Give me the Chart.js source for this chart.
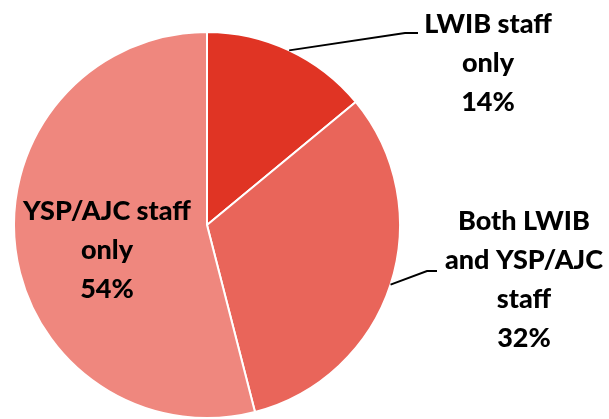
<!DOCTYPE html>
<html>
<head>
<meta charset="utf-8">
<script src="https://cdn.jsdelivr.net/npm/chart.js@4"></script>
<style>
  html, body { margin: 0; padding: 0; background: #fff; }
  #wrap { position: relative; width: 609px; height: 419px; }
</style>
</head>
<body>
<div id="wrap"><canvas id="pie"></canvas></div>
<script>
// --- Data ---
const categories = ['LWIB staff\nonly', 'Both LWIB\nand YSP/AJC\nstaff', 'YSP/AJC staff\nonly'];
const shares = [14, 32, 54];
const sliceColors = ['#E03424', '#E9655A', '#EF877E'];

// label boxes: centre x, first baseline y, and where the leader line ends (null = inside)
const labelSpots = [
    { x: 488, y: 33, lineEnd: [418, 33], elbow: [405, 33] },
    { x: 524, y: 230, lineEnd: [437, 271], elbow: [427, 271] },
    { x: 107, y: 220, lineEnd: null }
];

const labelPlugin = {
    id: 'sliceLabels',
    afterDraw(chart) {
        const ctx = chart.ctx;
        const arcs = chart.getDatasetMeta(0).data;
        ctx.save();
        arcs.forEach((arc, i) => {
            const spot = labelSpots[i];
            if (spot.lineEnd) {
                const mid = (arc.startAngle + arc.endAngle) / 2;
                const sx = arc.x + Math.cos(mid) * arc.outerRadius;
                const sy = arc.y + Math.sin(mid) * arc.outerRadius;
                ctx.strokeStyle = '#000';
                ctx.lineWidth = 2;
                ctx.beginPath();
                ctx.moveTo(sx, sy);
                ctx.lineTo(spot.elbow[0], spot.elbow[1]);
                ctx.lineTo(spot.lineEnd[0], spot.lineEnd[1]);
                ctx.stroke();
            }
            const lines = categories[i].split('\n').concat([shares[i] + '%']);
            ctx.fillStyle = '#000';
            ctx.font = '900 27px Lato';
            ctx.textAlign = 'center';
            ctx.textBaseline = 'alphabetic';
            lines.forEach((t, k) => ctx.fillText(t, spot.x, spot.y + k * 39));
        });
        ctx.restore();
    }
};

new Chart(document.getElementById('pie'), {
    type: 'pie',
    data: {
        labels: categories,
        datasets: [{
            data: shares,
            backgroundColor: sliceColors,
            borderColor: '#fff',
            borderWidth: 2
        }]
    },
    options: {
        responsive: true,
        maintainAspectRatio: false,
        animation: false,
        layout: { padding: { left: 13, right: 208, top: 31, bottom: 0 } },
        plugins: { legend: { display: false }, tooltip: { enabled: false } }
    },
    plugins: [labelPlugin]
});
</script>
</body>
</html>
